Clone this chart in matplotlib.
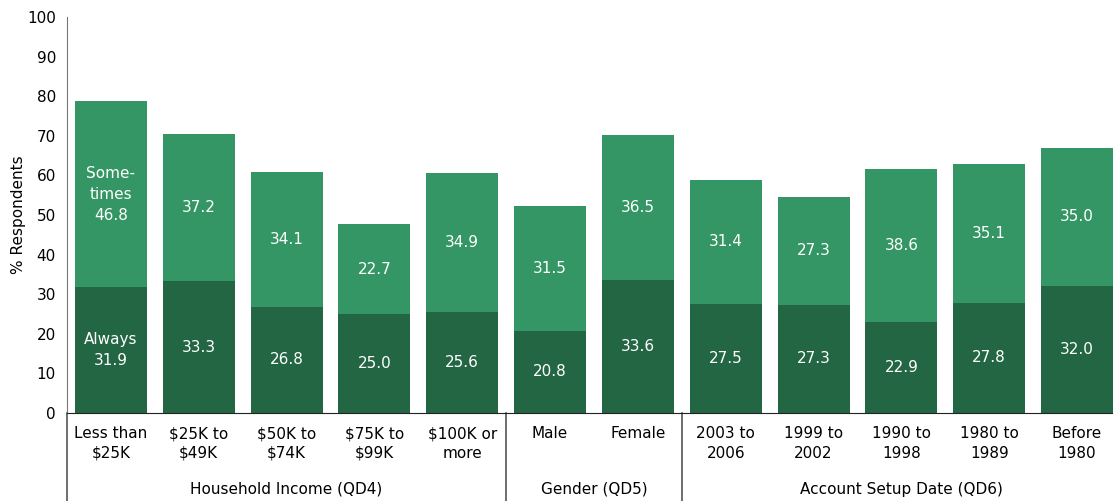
import matplotlib
matplotlib.use("Agg")
import matplotlib.pyplot as plt
import numpy as np

categories = ["Less than\n$25K", "$25K to\n$49K", "$50K to\n$74K", "$75K to\n$99K",
              "$100K or\nmore", "Male", "Female", "2003 to\n2006", "1999 to\n2002",
              "1990 to\n1998", "1980 to\n1989", "Before\n1980"]
always = [31.9, 33.3, 26.8, 25.0, 25.6, 20.8, 33.6, 27.5, 27.3, 22.9, 27.8, 32.0]
sometimes = [46.8, 37.2, 34.1, 22.7, 34.9, 31.5, 36.5, 31.4, 27.3, 38.6, 35.1, 35.0]
groups = ["Household Income (QD4)", "Gender (QD5)", "Account Setup Date (QD6)"]
group_sizes = [5, 2, 5]

plt.rcParams['font.family'] = ['DejaVu Sans']
plt.rcParams['font.size'] = 10.5

dark = "#236643"
light = "#339664"

fig = plt.figure(figsize=(11.13, 5.01), dpi=100)
ax = fig.add_axes([67/1113, 88/501, 1054/1113, 396/501])

x = np.arange(len(categories))
w = 0.82
ax.bar(x, always, w, color=dark)
ax.bar(x, sometimes, w, bottom=always, color=light)

for i in x:
    a, s = always[i], sometimes[i]
    if i == 0:
        ta, ts = "Always\n%.1f" % a, "Some-\ntimes\n%.1f" % s
    else:
        ta, ts = "%.1f" % a, "%.1f" % s
    ax.text(i, a / 2, ta, ha="center", va="center", color="white", fontsize=11, linespacing=1.5)
    ax.text(i, a + s / 2, ts, ha="center", va="center", color="white", fontsize=11, linespacing=1.5)

ax.set_xlim(-0.5, len(categories) - 0.5)
ax.set_ylim(0, 100)
ax.set_yticks(range(0, 101, 10))
ax.set_xticks([])
ax.tick_params(axis="y", length=0, pad=8, labelsize=11)
ax.set_ylabel("% Respondents", fontsize=11)
ax.yaxis.set_label_coords(-0.039, 0.5)

for side in ["top", "right"]:
    ax.spines[side].set_visible(False)
ax.spines["left"].set_color("#777777")
ax.spines["bottom"].set_color("#222222")

# category labels under each bar
for i, c in enumerate(categories):
    ax.text(i, -3.3, c, ha="center", va="top", fontsize=11, linespacing=1.4)

# group labels and separators
start = 0
bottom = -22.3
for g, n in zip(groups, group_sizes):
    ax.plot([start - 0.5, start - 0.5], [0, bottom], color="#555555", lw=1.2, clip_on=False)
    ax.text(start + (n - 1) / 2, -19.3, g, ha="center", va="center", fontsize=11)
    start += n

fig.savefig("out.png", dpi=100)
